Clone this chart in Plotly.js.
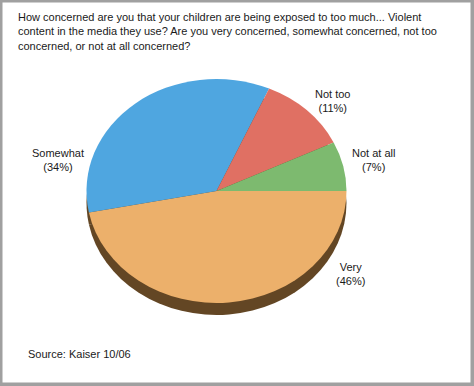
<!DOCTYPE html>
<html>
<head>
<meta charset="utf-8">
<script src="https://cdn.plot.ly/plotly-3.0.1.min.js"></script>
<style>
  html, body { margin: 0; padding: 0; background: #ffffff; }
  #chart { width: 474px; height: 386px; }
</style>
</head>
<body>
<div id="chart"></div>
<script>
// ---- data ----
const categories = ["Very", "Somewhat", "Not too", "Not at all"];
const percents = [46, 34, 11, 7];
const sliceColors = ["#ecb06b", "#4fa6e0", "#e07063", "#7dba6f"];
const titleLines = [
  "How concerned are you that your children are being exposed to too much... Violent",
  "content in the media they use? Are you very concerned, somewhat concerned, not too",
  "concerned, or not at all concerned?"
];
const sourceText = "Source: Kaiser 10/06";
// label anchor positions in px (x, y centre)
const labelPos = {
  "Very": [350, 274],
  "Somewhat": [58, 160],
  "Not too": [332, 101],
  "Not at all": [373, 160]
};

const W = 474, H = 386;
const FONT = "'Liberation Sans', Arial, Helvetica, sans-serif";
// pie geometry (px)
const cx = 216.5, cy = 191, r = 130, ry = 112, rim = 12;
const dom = {
  x: [(cx - r) / W, (cx + r) / W],
  y: [(H - cy - r) / H, (H - cy + r) / H]
};

const shadow = {
  type: "pie",
  labels: categories,
  values: percents,
  sort: false,
  direction: "clockwise",
  rotation: 90,
  domain: dom,
  textinfo: "none",
  hoverinfo: "none",
  showlegend: false,
  marker: { colors: categories.map(() => "#634624"), line: { width: 0 } }
};
const face = {
  type: "pie",
  labels: categories,
  values: percents,
  sort: false,
  direction: "clockwise",
  rotation: 90,
  domain: dom,
  textinfo: "none",
  hoverinfo: "none",
  showlegend: false,
  marker: { colors: sliceColors, line: { width: 0 } }
};

const annotations = categories.map((c, i) => ({
  text: c + "<br>(" + percents[i] + "%)",
  x: labelPos[c][0] / W,
  y: 1 - labelPos[c][1] / H,
  xref: "paper", yref: "paper",
  xanchor: "center", yanchor: "middle",
  align: "center",
  showarrow: false,
  font: { family: FONT, size: 11, color: "#1a1a1a" }
}));
annotations.push({
  text: sourceText,
  x: 26 / W, y: 1 - 354 / H,
  xref: "paper", yref: "paper",
  xanchor: "left", yanchor: "middle",
  showarrow: false,
  font: { family: FONT, size: 11, color: "#1a1a1a" }
});

const layout = {
  width: W, height: H,
  margin: { l: 0, r: 0, t: 0, b: 0 },
  paper_bgcolor: "#ffffff",
  font: { family: FONT, size: 11, color: "#1a1a1a" },
  title: {
    text: titleLines.join("<br>"),
    x: 18 / W, xref: "container", xanchor: "left",
    y: 1 - 21 / H, yref: "container", yanchor: "top",
    font: { family: FONT, size: 11, color: "#1a1a1a" }
  },
  annotations: annotations,
  shapes: [{
    type: "rect", xref: "paper", yref: "paper",
    x0: 0.5 / W, x1: 472.5 / W, y0: 1 - 384.5 / H, y1: 1 - 0.5 / H,
    line: { color: "#a0a0a0", width: 4 }
  }]
};

Plotly.newPlot("chart", [shadow, face], layout, { staticPlot: true, displayModeBar: false }).then(gd => {
  const k = ry / r;
  const groups = gd.querySelectorAll(".pielayer .trace");
  groups.forEach((g, i) => {
    const dy = i === 0 ? rim : 0;
    g.setAttribute("transform",
      "translate(0," + (cy + dy) + ") scale(1," + k + ") translate(0," + (-cy) + ")");
  });
});
</script>
</body>
</html>
